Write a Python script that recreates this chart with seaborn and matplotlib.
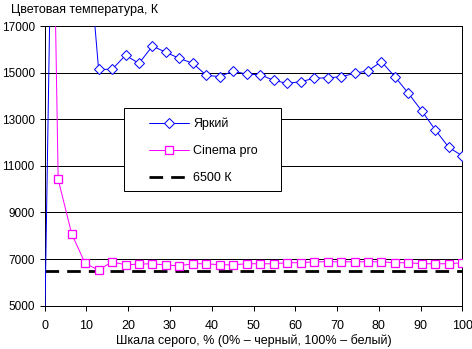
import numpy as np
import pandas as pd
import matplotlib
matplotlib.use("Agg")
import matplotlib.pyplot as plt
from matplotlib.patches import Rectangle
import seaborn as sns

# ---- data ----
gray_pct = [i * 100 / 31 for i in range(32)]
bright = [4000, 40000, 28000, 22000, 15140, 15140, 15740, 15400, 16140, 15870,
          15610, 15400, 14880, 14830, 15070, 14930, 14910, 14670, 14540, 14610,
          14755, 14780, 14820, 14970, 15080, 15470, 14820, 14110, 13350, 12540,
          11790, 11430]
cinema = [45000, 10420, 8090, 6815, 6530, 6880, 6755, 6785, 6800, 6742,
          6712, 6800, 6800, 6755, 6755, 6800, 6800, 6800, 6843, 6843,
          6884, 6884, 6884, 6884, 6884, 6884, 6843, 6843, 6800, 6800,
          6800, 6843]
ref_x = [0, 100]
ref_y = [6500, 6500]
series_names = ["Яркий", "Cinema pro", "6500 К"]
x_ticks = list(range(0, 101, 10))
y_ticks = list(range(5000, 17001, 2000))
title_text = "Цветовая температура, К"
xlabel_text = "Шкала серого, % (0% – черный, 100% – белый)"

sns.set_style("ticks")
plt.rcParams["font.family"] = ["Liberation Sans", "DejaVu Sans"]
plt.rcParams["font.size"] = 9

W, H = 472, 349
fig = plt.figure(figsize=(W / 100, H / 100), dpi=100)
L, R, T, B = 44.7, 462.3, 26.0, 305.7
ax = fig.add_axes([L / W, 1 - B / H, (R - L) / W, (B - T) / H])

blue = "#0000FF"
pink = "#FF00FF"
px = 0.72

sns.lineplot(x=gray_pct, y=bright, ax=ax, color=blue, lw=px, marker="D",
             ms=5.0, mfc="white", mec=blue, mew=px, label=series_names[0],
             zorder=3)
sns.lineplot(x=gray_pct, y=cinema, ax=ax, color=pink, lw=px, marker="s",
             ms=5.3, mfc="white", mec=pink, mew=px * 1.3, label=series_names[1],
             zorder=3)
sns.lineplot(x=ref_x, y=ref_y, ax=ax, color="black", lw=2.0,
             linestyle=(0, (4.9, 2.9)), label=series_names[2], zorder=2.5)

ax.set_xlim(0, 100)
ax.set_ylim(5000, 17000)
ax.set_xticks(x_ticks)
ax.set_yticks(y_ticks)
ax.set_xticklabels([str(t) for t in x_ticks])
ax.set_yticklabels([str(t) for t in y_ticks])
ax.yaxis.grid(True, color="black", lw=px)
ax.xaxis.grid(False)
ax.set_axisbelow(True)
for s in ax.spines.values():
    s.set_visible(True)
    s.set_color("black")
    s.set_linewidth(px)
ax.tick_params(axis="both", colors="black", labelcolor="black", length=3.6,
               width=px, direction="out", labelsize=9)
ax.tick_params(axis="x", pad=6.5)
ax.tick_params(axis="y", pad=3.6, labelsize=8.5)

ax.set_xlabel(xlabel_text, fontsize=9, color="black", labelpad=2)
ax.set_ylabel("")
fig.text(11 / W, 1 - 12.5 / H, title_text, fontsize=9, ha="left",
         va="baseline", color="black")

# legend box
rect = Rectangle((124.3 / W, 1 - 191 / H), (280.7 - 124.3) / W, (191 - 108.3) / H,
                 transform=fig.transFigure, facecolor="white", edgecolor="black",
                 lw=px, zorder=4, clip_on=False)
ax.add_patch(rect)
leg = ax.legend(loc="upper left", bbox_to_anchor=(149.3 / W, 1 - 117.4 / H),
                bbox_transform=fig.transFigure, frameon=False, borderpad=0,
                borderaxespad=0, handlelength=3.2, handletextpad=0.32,
                labelspacing=1.2, fontsize=9, numpoints=1)
leg.set_zorder(5)
for t in leg.get_texts():
    t.set_color("black")

fig.savefig("out.png", dpi=100)
